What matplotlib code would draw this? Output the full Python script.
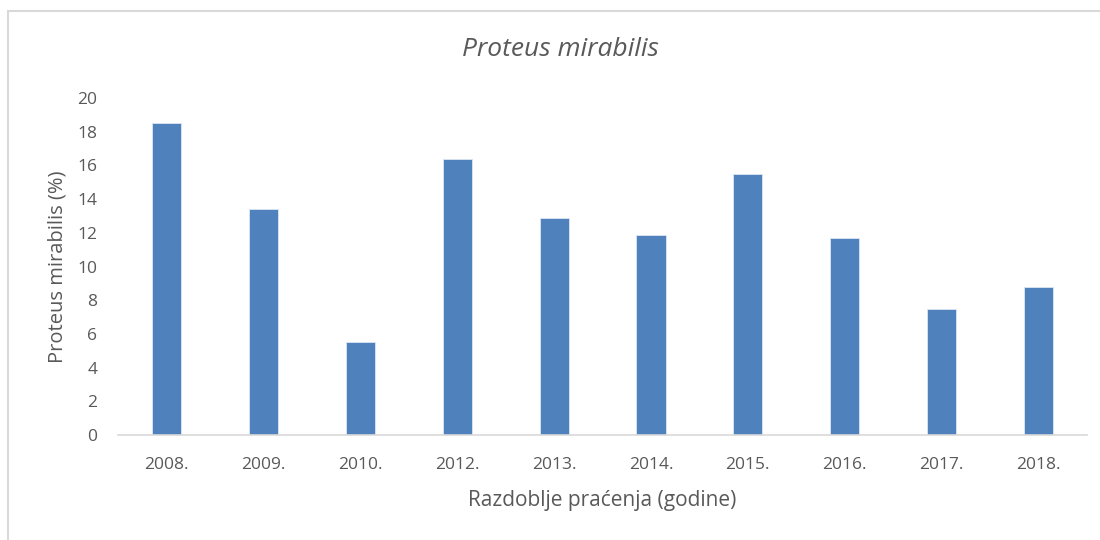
import matplotlib.pyplot as plt
from matplotlib.patches import Rectangle

# podaci
godine = ['2008.', '2009.', '2010.', '2012.', '2013.', '2014.', '2015.', '2016.', '2017.', '2018.']
udio = [18.5, 13.4, 5.5, 16.4, 12.9, 11.9, 15.5, 11.7, 7.5, 8.8]

plt.rcParams['font.family'] = ['Open Sans', 'DejaVu Sans']
siva = '#595959'

fig = plt.figure(figsize=(11, 5.4), dpi=100)
ax = fig.add_axes([0.1073, 0.1944, 0.8809, 0.6241])

x = list(range(len(godine)))
ax.bar(x, udio, width=0.3, color='#4f81bd', edgecolor='#dce6f2', linewidth=0.6)

ax.set_xlim(-0.5, len(godine) - 0.5)
ax.set_ylim(0, 20)
ax.set_yticks(range(0, 21, 2))
ax.set_xticks(x)
ax.set_xticklabels(godine)

for s in ['top', 'right', 'left']:
    ax.spines[s].set_visible(False)
ax.spines['bottom'].set_color('#d9d9d9')
ax.spines['bottom'].set_linewidth(1.2)
ax.tick_params(axis='both', length=0, labelsize=12.5, colors=siva)
ax.tick_params(axis='y', pad=15)
ax.tick_params(axis='x', pad=16)

# naslov centriran na grafikon
fig.text(560 / 1100, 1 - 50 / 540, 'Proteus mirabilis', fontsize=19, style='italic',
         color=siva, ha='center', va='center')
ax.set_xlabel('Razdoblje praćenja (godine)', fontsize=15, color=siva, labelpad=12)
ax.set_ylabel('Proteus mirabilis (%)', fontsize=14.5, color=siva, labelpad=7)

# okvir grafikona
fig.patches.append(Rectangle((8 / 1100, -0.1), 1.2, 1 - 11 / 540 + 0.1,
                             transform=fig.transFigure, fill=False,
                             edgecolor='#d9d9d9', linewidth=1.5))

fig.savefig('out.png', dpi=100)
